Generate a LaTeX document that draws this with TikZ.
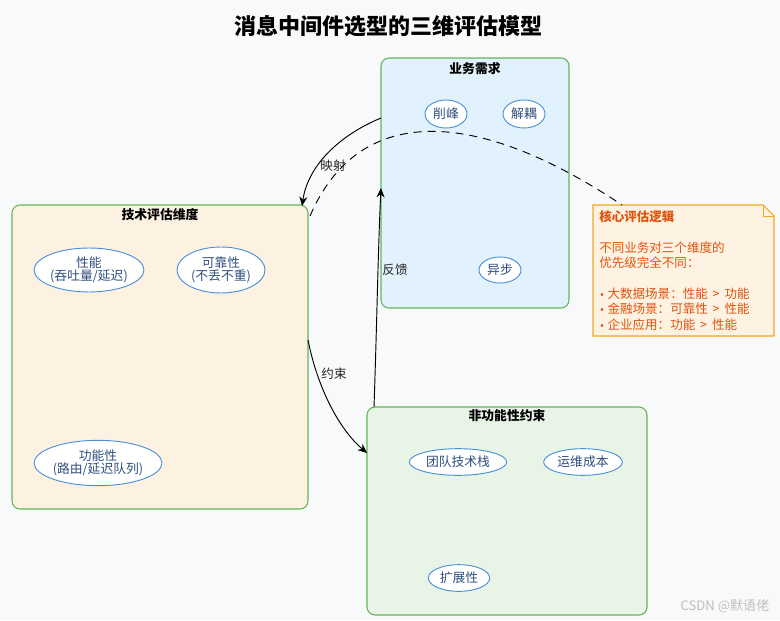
\documentclass[tikz,border=0pt]{standalone}
\usepackage{fontspec}
\setmainfont{Noto Sans CJK SC}
\newfontfamily\dvfont{DejaVu Sans}
\usetikzlibrary{arrows.meta,shapes.geometric}
\definecolor{bgc}{HTML}{F8F9FB}
\definecolor{grn}{RGB}{100,180,90}
\definecolor{bluefill}{HTML}{E1F2FD}
\definecolor{orfill}{HTML}{FDF2E1}
\definecolor{grfill}{HTML}{E8F4E6}
\definecolor{ellb}{HTML}{4A90D9}
\definecolor{elltxt}{HTML}{2F4F7F}
\definecolor{noteb}{HTML}{F5A623}
\definecolor{notefill}{HTML}{FEF3E2}
\definecolor{notetxt}{HTML}{E0530F}
\newcommand{\bul}{{\dvfont\fontsize{7}{11}\selectfont •}\ }
\tikzset{
  groupbox/.style={draw=grn, line width=0.8pt, rounded corners=6pt},
  grouptitle/.style={font=\bfseries\fontsize{9.6}{11}\selectfont, anchor=center},
  item/.style={ellipse, draw=ellb, fill=white, line width=0.7pt, inner sep=0pt, text=elltxt, font=\fontsize{9.6}{11.5}\selectfont, align=center},
  conn/.style={-{Stealth[length=7pt,width=6pt]}, line width=0.7pt, black},
  lbl/.style={font=\fontsize{9.4}{11}\selectfont, text=black!85}
}
\begin{document}
\begin{tikzpicture}[x=0.75pt,y=-0.75pt]
\fill[bgc] (0,0) rectangle (780,620);
\useasboundingbox (0,0) rectangle (780,620);
\node[font=\bfseries\fontsize{16.5}{18}\selectfont] (title) at (388,26) {消息中间件选型的三维评估模型};
% group boxes
\draw[groupbox, fill=bluefill] (381,58) rectangle (569,308);
\node[grouptitle] (biz) at (475,69) {业务需求};
\coordinate (bizL) at (381,118);
\coordinate (bizF) at (381,188);
\draw[groupbox, fill=orfill] (12,205) rectangle (308,509);
\node[grouptitle] (tech) at (160,215) {技术评估维度};
\coordinate (techT) at (302,206);
\coordinate (techR) at (308,340);
\coordinate (techD) at (310,216);
\draw[groupbox, fill=grfill] (367,407) rectangle (647,615);
\node[grouptitle] (nf) at (507,416) {非功能性约束};
\coordinate (nfL) at (367,453);
\coordinate (nfT) at (374,407);
% ellipses
\node[item, minimum width=31.5pt, minimum height=21pt] (e1) at (446,114) {削峰};
\node[item, minimum width=31.5pt, minimum height=21pt] (e2) at (524,114) {解耦};
\node[item, minimum width=31.5pt, minimum height=19.5pt] (e3) at (500,270) {异步};
\node[item, minimum width=81pt, minimum height=33pt] (e4) at (89,270) {性能\\[-2pt](吞吐量/延迟)};
\node[item, minimum width=66pt, minimum height=34.5pt] (e5) at (221,270) {可靠性\\[-2pt](不丢不重)};
\node[item, minimum width=94pt, minimum height=34pt] (e6) at (98,463) {功能性\\[-2pt](路由/延迟队列)};
\node[item, minimum width=73pt, minimum height=20pt] (e7) at (458,462) {团队技术栈};
\node[item, minimum width=59pt, minimum height=20pt] (e8) at (583,462) {运维成本};
\node[item, minimum width=46pt, minimum height=20pt] (e9) at (459,578) {扩展性};
% note
\draw[draw=noteb, fill=notefill, line width=0.8pt] (593,205) -- (763,205) -- (774,216) -- (774,336) -- (593,336) -- cycle;
\draw[draw=noteb, line width=0.6pt] (763,205) -- (763,216) -- (774,216);
\node[anchor=north west, inner sep=0pt, text=notetxt, font=\fontsize{9.4}{11.6}\selectfont, align=left] (note) at (599,210) {\textbf{核心评估逻辑}\\[11.6pt]不同业务对三个维度的\\优先级完全不同：\\[11.6pt]\bul 大数据场景：性能 \,>\, 功能\\\bul 金融场景：可靠性 \,>\, 性能\\\bul 企业应用：功能 \,>\, 性能};
\coordinate (noteC) at (622,205);
% connectors
\draw[conn] (bizL) .. controls (340,135) and (308,165) .. (techT);
\node[lbl] (l1) at (333,166) {映射};
\draw[conn] (techR) .. controls (318,390) and (340,430) .. (nfL);
\node[lbl] (l2) at (334,374) {约束};
\draw[conn] (nfT) .. controls (377,320) and (378,250) .. (bizF);
\node[lbl] (l3) at (395,270) {反馈};
\draw[dashed, dash pattern=on 6pt off 4.5pt, line width=0.7pt] (techD) .. controls (360,100) and (480,110) .. (noteC);
\node[text=black!25, font=\fontsize{9.8}{11}\selectfont] (wm) at (725,606) {CSDN @默语佬};
\end{tikzpicture}
\end{document}
